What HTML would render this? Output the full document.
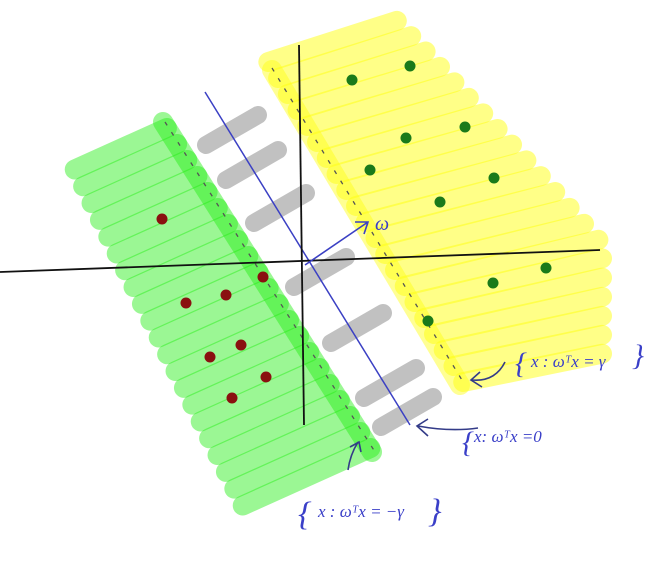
<!DOCTYPE html>
<html><head><meta charset="utf-8"><style>
html,body{margin:0;padding:0;background:#fff;}
svg{display:block;}
.lbl{font-family:"Liberation Serif",serif;font-style:italic;fill:#3a3fc8;}
</style></head><body>
<svg id="chart" width="655" height="565" viewBox="0 0 655 565" xmlns="http://www.w3.org/2000/svg">
<g id="yellow"></g>
<g id="green"></g>
<g id="gray" opacity="0.9"></g>
<line x1="272" y1="68" x2="465" y2="385" stroke="#555" stroke-width="1.3" stroke-dasharray="4 8"/>
<line x1="165" y1="122" x2="377" y2="455" stroke="#555" stroke-width="1.3" stroke-dasharray="4 8"/>
<line x1="205" y1="92" x2="410" y2="425" stroke="#3b40c4" stroke-width="1.5"/>
<path d="M0,272 Q300,262 600,250" fill="none" stroke="#111" stroke-width="1.8"/>
<path d="M299,45 Q302,230 304,425" fill="none" stroke="#111" stroke-width="1.8"/>
<g stroke="#3b40c4" stroke-width="1.6" fill="none">
<line x1="305" y1="265" x2="368" y2="222"/><path d="M355,222 L368,222 L364,234"/></g>
<text class="lbl" x="375" y="230" font-size="20">ω</text>
<g id="dots"></g>
<g stroke="#333b88" stroke-width="1.6" fill="none">
<path d="M505,362 Q495,382 472,380"/><path d="M480,372 L471,380 L482,387"/>
<path d="M478,428 Q450,432 418,426"/><path d="M428,419 L417,426 L428,436"/>
<path d="M348,470 Q350,455 358,442"/><path d="M350,447 L359,442 L361,452"/></g>
<g><text class="lbl" x="515" y="373" font-size="30">{</text><text class="lbl" x="531" y="367" font-size="17">x : ωᵀx = γ</text><text class="lbl" x="632" y="365" font-size="30">}</text></g>
<g><text class="lbl" x="462" y="452" font-size="30">{</text><text class="lbl" x="474" y="442" font-size="17">x: ωᵀx =0</text></g>
<g><text class="lbl" x="298" y="525" font-size="34">{</text><text class="lbl" x="318" y="517" font-size="17">x : ωᵀx = −γ</text><text class="lbl" x="428" y="522" font-size="34">}</text></g>
</svg>
<script>
const posX=[352,410,406,465,370,494,440,546,493,428];
const posY=[80,66,138,127,170,178,202,268,283,321];
const negX=[162,263,186,226,241,210,266,232];
const negY=[219,277,303,295,345,357,377,398];
const NS="http://www.w3.org/2000/svg";
function strokeLine(g,x1,y1,x2,y2,col,w,op,name){const l=document.createElementNS(NS,'line');
l.setAttribute('x1',x1);l.setAttribute('y1',y1);l.setAttribute('x2',x2);l.setAttribute('y2',y2);
l.setAttribute('stroke',col);l.setAttribute('stroke-width',w);l.setAttribute('stroke-linecap','round');
l.setAttribute('stroke-opacity',op);


g.appendChild(l);}
const yg=document.getElementById('yellow');
for(let ly=62;ly<=392;ly+=16){const lx=272+(ly-68)*0.609;const rx=Math.min(395+(ly-60)*0.9,602);
const sl=0.32-(ly-62)/330*0.12;strokeLine(yg,lx,ly,rx,ly-(rx-lx)*sl,'#ffff10',20,0.5,'yellow-stroke');}
strokeLine(yg,272,70,460,385,'#ffff10',20,0.45,'yellow-edge-stroke');
const gg=document.getElementById('green');
for(let ry=128;ry<=455;ry+=16){const rx=165+(ry-125)*0.636;
let lx=(80+0.5*(ry-180)+0.225*rx)/1.225;if(rx-lx<30)lx=rx-30;
const ly=ry+0.45*(rx-lx);strokeLine(gg,lx,ly,rx,ry,'#22ee11',20,0.45,'green-stroke');}
strokeLine(gg,163,122,372,452,'#22ee11',20,0.45,'green-edge-stroke');
const gr=document.getElementById('gray');
const gcx=[232,252,280,320,357,390,407];const gcy=[130,165,208,272,328,383,412];
gcx.forEach((cx,i)=>strokeLine(gr,cx-26,gcy[i]+15,cx+26,gcy[i]-15,'#bbbbbb',18,1,'margin-dash'));
const dg=document.getElementById('dots');
function dot(x,y,c,name){const e=document.createElementNS(NS,'circle');e.setAttribute('cx',x);e.setAttribute('cy',y);e.setAttribute('r',5.5);e.setAttribute('fill',c);


dg.appendChild(e);}
posX.forEach((x,i)=>dot(x,posY[i],'#1a7a1a','positive-point'));
negX.forEach((x,i)=>dot(x,negY[i],'#8a1010','negative-point'));
</script>
</body></html>
